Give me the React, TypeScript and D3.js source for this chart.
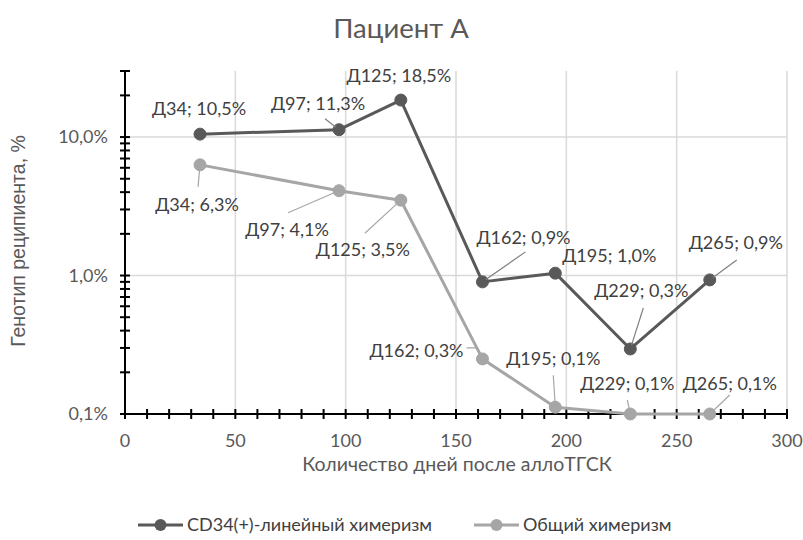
import React from "react";
import * as d3 from "d3";

// ---- data ----
const days = [34, 97, 125, 162, 195, 229, 265];
const cd34Values = [10.5, 11.3, 18.5, 0.9, 1.04, 0.295, 0.93];
const totalValues = [6.3, 4.1, 3.5, 0.25, 0.112, 0.1, 0.1];
const seriesNames = ["CD34(+)-линейный химеризм", "Общий химеризм"];
const xTicks = [0, 50, 100, 150, 200, 250, 300];
const yTicks = [0.1, 1, 10];
const title = "Пациент А";
const xTitle = "Количество дней после аллоТГСК";
const yTitle = "Генотип реципиента, %";

// ---- label placement (pixel offsets relative to point) ----
type LabelPos = { dx: number; dy: number; leader?: [number, number][] };
const cd34Labels: LabelPos[] = [
  { dx: -1, dy: -19 },
  { dx: -21, dy: -20, leader: [[-14, -11]] },
  { dx: -2, dy: -18 },
  { dx: 41, dy: -38, leader: [[43, -30]] },
  { dx: 54, dy: -11 },
  { dx: 11, dy: -52, leader: [[13, -41]] },
  { dx: 26, dy: -31, leader: [[27, -20]] },
];
const totalLabels: LabelPos[] = [
  { dx: -3, dy: 46, leader: [[-2, 22]] },
  { dx: -52, dy: 45, leader: [[-51, 22]] },
  { dx: -38, dy: 56, leader: [[-36, 33]] },
  { dx: -66, dy: -2, leader: [[-16, -11], [-5, -11]] },
  { dx: -2, dy: -42, leader: [[-2, -32]] },
  { dx: -3, dy: -24, leader: [[-3, -14]] },
  { dx: 20, dy: -24, leader: [[20, -19]] },
];

const W = 803;
const H = 540;
const M = { left: 125, right: 787, top: 71, bottom: 414 };
const DARK = "#595959";
const LIGHT = "#a6a6a6";
const TXT = "#404040";
const FONT = "Lato, 'Open Sans', sans-serif";

const fmtPct = (v: number) => v.toFixed(1).replace(".", ",") + "%";

export default function App() {
  const x = d3.scaleLinear().domain([0, 300]).range([M.left, M.right]);
  const y = d3.scaleLog().domain([0.1, 30]).range([M.bottom, M.top]);

  const xMinor = d3.range(0, 301, 10);
  const yMinor: number[] = [];
  [0.1, 1, 10].forEach((dec) => {
    for (let k = 1; k <= 9; k++) {
      const v = dec * k;
      if (v <= 30.0001) yMinor.push(v);
    }
  });

  const line = d3
    .line<number>()
    .x((_, i) => x(days[i]))
    .y((v) => y(v));

  const series = [
    { name: seriesNames[0], values: cd34Values, color: DARK, labels: cd34Labels, leaderColor: "#7f7f7f" },
    { name: seriesNames[1], values: totalValues, color: LIGHT, labels: totalLabels, leaderColor: LIGHT },
  ];

  return (
    <div style={{ position: "absolute", left: 0, top: 0 }}>
      <svg width={W} height={H} style={{ display: "block", background: "#fff" }}>
        <rect width={W} height={H} fill="#fff" />
        <text x={401} y={38} textAnchor="middle" fontFamily={FONT} fontSize={27.5} fill={DARK}>
          {title}
        </text>

        {/* gridlines */}
        {xTicks.filter((t) => t > 0).map((t) => (
          <line key={"gx" + t} x1={x(t)} x2={x(t)} y1={M.top} y2={M.bottom} stroke="#d9d9d9" strokeWidth={1.5} />
        ))}
        {yTicks.filter((t) => t > 0.1).map((t) => (
          <line key={"gy" + t} x1={M.left} x2={M.right} y1={y(t)} y2={y(t)} stroke="#d9d9d9" strokeWidth={1.5} />
        ))}

        {/* axes */}
        <line x1={M.left} x2={M.left} y1={M.top} y2={M.bottom} stroke="#000" strokeWidth={2} />
        <line x1={M.left} x2={M.right} y1={M.bottom} y2={M.bottom} stroke="#000" strokeWidth={2} />
        {yMinor.map((v) => (
          <line key={"ty" + v} x1={M.left - 5} x2={M.left + 5} y1={y(v)} y2={y(v)} stroke="#000" strokeWidth={2} />
        ))}
        <line x1={M.left - 5} x2={M.left + 5} y1={y(30)} y2={y(30)} stroke="#000" strokeWidth={2} />
        {xMinor.map((v) => (
          <line key={"tx" + v} x1={x(v)} x2={x(v)} y1={M.bottom - 5} y2={M.bottom + 5} stroke="#000" strokeWidth={2} />
        ))}

        {/* tick labels */}
        {yTicks.map((t) => (
          <text key={"ly" + t} x={M.left - 17} y={y(t) + 6} textAnchor="end" fontFamily={FONT} fontSize={18} fill={DARK}>
            {fmtPct(t)}
          </text>
        ))}
        {xTicks.map((t) => (
          <text key={"lx" + t} x={x(t)} y={447} textAnchor="middle" fontFamily={FONT} fontSize={18} fill={DARK}>
            {t}
          </text>
        ))}

        {/* axis titles */}
        <text x={457} y={471} textAnchor="middle" fontFamily={FONT} fontSize={19.5} fill={DARK}>
          {xTitle}
        </text>
        <text
          transform={`translate(25,241) rotate(-90)`}
          textAnchor="middle"
          fontFamily="'Liberation Sans', Arial, sans-serif"
          fontSize={19.5}
          fill={DARK}
        >
          {yTitle}
        </text>

        {/* series */}
        {series.map((s) => (
          <g key={s.name}>
            <path d={line(s.values) || ""} fill="none" stroke={s.color} strokeWidth={3} strokeLinejoin="round" />
            {s.values.map((v, i) => (
              <circle key={i} cx={x(days[i])} cy={y(v)} r={6} fill={s.color} stroke={s.color} strokeWidth={1} />
            ))}
          </g>
        ))}

        {/* labels */}
        {series.map((s) =>
          s.values.map((v, i) => {
            const px = x(days[i]);
            const py = y(v);
            const lab = s.labels[i];
            const pts: [number, number][] | null = lab.leader
              ? [...lab.leader.map(([a, b]) => [px + a, py + b] as [number, number])]
              : null;
            let leaderPath = "";
            if (pts) {
              const last = pts[pts.length - 1];
              const ang = Math.atan2(last[1] - py, last[0] - px);
              const end: [number, number] = [px + Math.cos(ang) * 4, py + Math.sin(ang) * 4];
              leaderPath = d3.line()([...pts, end]) || "";
            }
            return (
              <g key={s.name + i}>
                {pts && <path d={leaderPath} fill="none" stroke={s.leaderColor} strokeWidth={1.2} />}
                <text
                  x={px + lab.dx}
                  y={py + lab.dy}
                  textAnchor="middle"
                  fontFamily={FONT}
                  fontSize={18}
                  fill={TXT}
                >
                  {`Д${days[i]}; ${fmtPct(v)}`}
                </text>
              </g>
            );
          })
        )}

        {/* legend */}
        {series.map((s, i) => {
          const lx = i === 0 ? 138 : 474;
          return (
            <g key={"lg" + i}>
              <line x1={lx} x2={lx + 45} y1={525} y2={525} stroke={s.color} strokeWidth={3} />
              <circle cx={lx + 22.5} cy={525} r={6} fill={s.color} />
              <text x={lx + 49} y={531} fontFamily={FONT} fontSize={18} fill={TXT}>
                {s.name}
              </text>
            </g>
          );
        })}
      </svg>
    </div>
  );
}
